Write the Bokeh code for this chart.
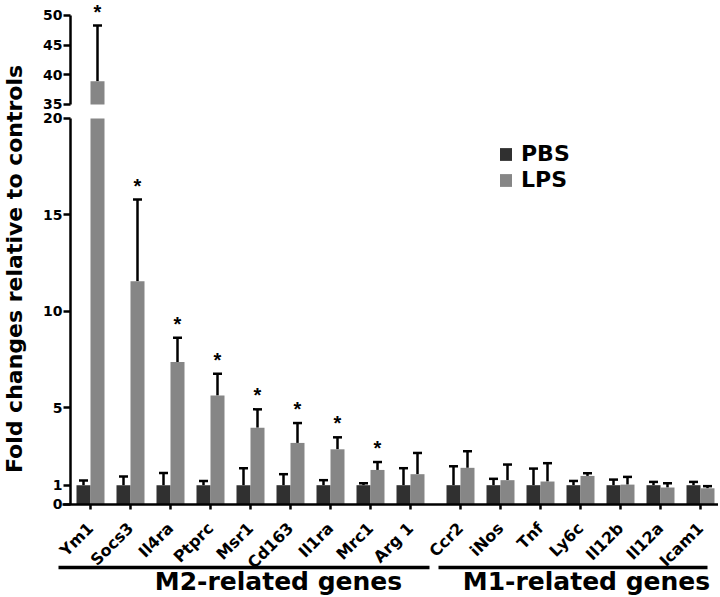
import math
from bokeh.plotting import figure
from bokeh.models import (ColumnDataSource, Range1d, FixedTicker, Whisker, TeeHead,
                          Legend, LegendItem, LinearAxis)
from bokeh.layouts import row
from bokeh.core.properties import value
from bokeh.embed import file_html
from bokeh.resources import INLINE

# ---------------- data ----------------
genes_m2 = ["Ym1", "Socs3", "Il4ra", "Ptprc", "Msr1", "Cd163", "Il1ra", "Mrc1", "Arg 1"]
genes_m1 = ["Ccr2", "iNos", "Tnf", "Ly6c", "Il12b", "Il12a", "Icam1"]
genes = genes_m2 + genes_m1

pbs_mean = [1.0, 1.0, 1.0, 1.0, 1.0, 1.0, 1.0, 1.0, 1.0,
            1.0, 1.0, 1.0, 1.0, 1.0, 1.0, 1.0]
pbs_sem = [0.24, 0.45, 0.63, 0.22, 0.88, 0.57, 0.26, 0.10, 0.88,
           0.98, 0.33, 0.86, 0.22, 0.29, 0.17, 0.17]
lps_mean = [38.9, 11.57, 7.38, 5.65, 3.98, 3.19, 2.86, 1.79, 1.57,
            1.90, 1.26, 1.19, 1.48, 1.03, 0.88, 0.84]
lps_sem = [9.4, 4.23, 1.26, 1.13, 0.95, 1.03, 0.62, 0.41, 1.10,
           0.86, 0.81, 0.95, 0.14, 0.40, 0.22, 0.11]
significant = [True, True, True, True, True, True, True, True, False,
               False, False, False, False, False, False, False]

group_names = ["M2-related genes", "M1-related genes"]
group_line_start = [-0.8, 8.7]
group_line_end = [8.475, 15.425]
group_label_x = [4.7, 12.4]

lower_ticks = [0, 1, 5, 10, 15, 20]
upper_ticks = [35, 40, 45, 50]
break_low, break_high = 20, 35

# ---------------- layout constants ----------------
GAP = 0.25
pos = [float(i) for i in range(len(genes_m2))] + \
      [len(genes_m2) + GAP + i for i in range(len(genes_m1))]
BAR_W = 0.35
PBS_COLOR = "#303030"
LPS_COLOR = "#868686"
FONT = "DejaVu Sans"
STAR_FONT = "Liberation Sans"

FIG_W, FIG_H = 678, 597   # plot figure spans page x 40..718
X_START = -1.25
PX_PER_UNIT = 40.0
YAXIS_AT = -0.5
LOWER_RANGE = (-4.819, 26.114)   # 0..20 occupies the lower part of the frame
UPPER_RANGE = (-48.09, 52.528)   # 35..50 occupies the top of the frame
GROUP_LINE_Y = -3.264
GROUP_LABEL_Y = -3.99

x_pbs = [p - BAR_W / 2 for p in pos]
x_lps = [p + BAR_W / 2 for p in pos]
pbs_top = [m + s for m, s in zip(pbs_mean, pbs_sem)]
lps_top = [m + s for m, s in zip(lps_mean, lps_sem)]

# lower segment: bars cut at the break
low_src = ColumnDataSource(dict(
    x_pbs=x_pbs, x_lps=x_lps,
    pbs=[min(v, break_low) for v in pbs_mean],
    lps=[min(v, break_low) for v in lps_mean]))
# upper segment: only the part of bars above the break
up_idx = [i for i, v in enumerate(lps_mean) if v > break_high]
up_src = ColumnDataSource(dict(x=[x_lps[i] for i in up_idx],
                               top=[lps_mean[i] for i in up_idx],
                               bottom=[break_high] * len(up_idx)))

p = figure(width=FIG_W, height=FIG_H,
           x_range=Range1d(X_START, X_START + FIG_W / PX_PER_UNIT),
           y_range=Range1d(*LOWER_RANGE),
           output_backend="svg", toolbar_location=None,
           min_border_left=0, min_border_right=0, min_border_top=0, min_border_bottom=0)
p.extra_y_ranges = {"upper": Range1d(*UPPER_RANGE)}
p.outline_line_color = None
p.xgrid.visible = False
p.ygrid.visible = False
p.background_fill_color = "white"
p.border_fill_color = "white"


def style_axis(ax, size):
    ax.axis_line_width = 2.5
    ax.axis_line_color = "black"
    ax.major_tick_line_width = 2.5
    ax.major_tick_line_color = "black"
    ax.major_tick_in = 0
    ax.minor_tick_out = 0
    ax.minor_tick_in = 0
    ax.major_label_text_font = FONT
    ax.major_label_text_font_style = "bold"
    ax.major_label_text_font_size = size
    ax.major_label_text_color = "black"


# lower y axis
ya = p.yaxis[0]
ya.fixed_location = YAXIS_AT
ya.ticker = FixedTicker(ticks=lower_ticks)
ya.bounds = (0, break_low)
style_axis(ya, "14px")
ya.major_tick_out = 7
ya.major_label_standoff = 1

# upper y axis (after the break)
yu = LinearAxis(y_range_name="upper", fixed_location=YAXIS_AT,
                ticker=FixedTicker(ticks=upper_ticks), bounds=(break_high, upper_ticks[-1]))
style_axis(yu, "14px")
yu.major_tick_out = 7
yu.major_label_standoff = 1
p.add_layout(yu, "left")

# x axis
xa = p.xaxis[0]
xa.fixed_location = 0
xa.bounds = (-0.7, X_START + FIG_W / PX_PER_UNIT)
xa.ticker = FixedTicker(ticks=pos)
xa.major_label_overrides = {t: g for t, g in zip(pos, genes)}
xa.major_label_orientation = math.pi / 4
style_axis(xa, "16px")
xa.major_tick_out = 5
xa.major_label_standoff = 16

# bars
r_pbs = p.vbar(x="x_pbs", top="pbs", bottom=0, width=BAR_W, source=low_src,
               fill_color=PBS_COLOR, line_color=None)
r_lps = p.vbar(x="x_lps", top="lps", bottom=0, width=BAR_W, source=low_src,
               fill_color=LPS_COLOR, line_color=None)
p.vbar(x="x", top="top", bottom="bottom", width=BAR_W, source=up_src,
       fill_color=LPS_COLOR, line_color=None, y_range_name="upper")


def add_whiskers(keep, range_name):
    xs, lo, hi = [], [], []
    for xp, m, t in zip(x_pbs, pbs_mean, pbs_top):
        if keep(m):
            xs.append(xp); lo.append(m); hi.append(t)
    for xl, m, t in zip(x_lps, lps_mean, lps_top):
        if keep(m):
            xs.append(xl); lo.append(m); hi.append(t)
    src = ColumnDataSource(dict(x=xs, lower=lo, upper=hi))
    w = Whisker(source=src, base="x", lower="lower", upper="upper",
                dimension="height", line_width=2.5, line_color="black",
                lower_head=None, y_range_name=range_name,
                upper_head=TeeHead(size=9, line_width=2.5, line_color="black"))
    p.add_layout(w)


def add_stars(keep, range_name):
    xs, ys = [], []
    for xl, t, sig in zip(x_lps, lps_top, significant):
        if sig and keep(t):
            xs.append(xl); ys.append(t)
    src = ColumnDataSource(dict(x=xs, y=ys, t=["*"] * len(xs)))
    p.text(x="x", y="y", text="t", source=src, text_align="center",
           text_baseline="alphabetic", y_offset=-14, y_range_name=range_name,
           text_font=value(STAR_FONT), text_font_style="bold",
           text_font_size="20px", text_color="black")


add_whiskers(lambda m: m < break_low, "default")
add_whiskers(lambda m: m > break_high, "upper")
add_stars(lambda t: t < break_low, "default")
add_stars(lambda t: t > break_high, "upper")

# group brackets and labels below the gene names
p.segment(x0=group_line_start, y0=[GROUP_LINE_Y] * 2, x1=group_line_end,
          y1=[GROUP_LINE_Y] * 2, line_width=3.5, line_color="black")
p.text(x=group_label_x, y=[GROUP_LABEL_Y] * 2, text=group_names, text_align="center",
       text_baseline="middle", text_font=value(FONT), text_font_style="bold",
       text_font_size="25px", text_color="black")

legend = Legend(items=[LegendItem(label="PBS", renderers=[r_pbs]),
                       LegendItem(label="LPS", renderers=[r_lps])],
                location=(458, 405), orientation="vertical",
                label_text_font=FONT, label_text_font_style="bold",
                label_text_font_size="22px", label_text_color="black",
                glyph_width=15, glyph_height=16, label_standoff=8,
                label_height=20, spacing=1, padding=0, margin=0,
                border_line_color=None, background_fill_alpha=0)
p.add_layout(legend)

# ---------------- y title ----------------
ttl = figure(width=40, height=FIG_H, x_range=Range1d(0, 40), y_range=Range1d(0, FIG_H),
             output_backend="svg", toolbar_location=None,
             x_axis_type=None, y_axis_type=None,
             min_border_left=0, min_border_right=0, min_border_top=0, min_border_bottom=0)
ttl.outline_line_color = None
ttl.xgrid.visible = False
ttl.ygrid.visible = False
ttl.text(x=[14], y=[328.5], text=["Fold changes relative to controls"], angle=math.pi / 2,
         text_align="center", text_baseline="middle", text_font=value(FONT),
         text_font_style="bold", text_font_size="22px", text_color="black")

layout = row(ttl, p)

with open("out.html", "w") as f:
    f.write(file_html(layout, INLINE))
